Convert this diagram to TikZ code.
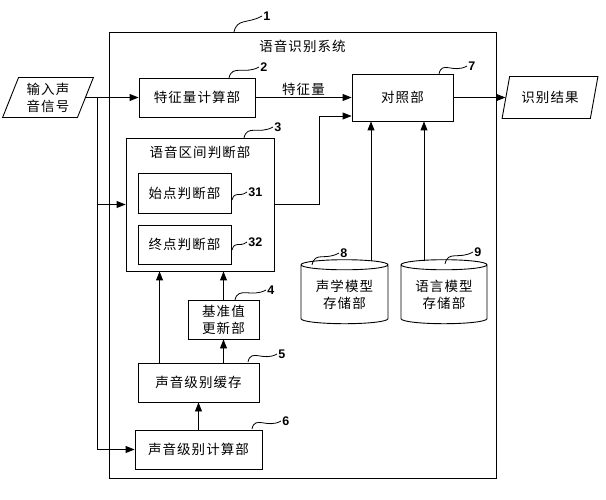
\documentclass[tikz,border=0pt]{standalone}
\usepackage{fontspec}
\setmainfont{Noto Sans CJK SC}[LetterSpace=8]
\newfontfamily\numfont{Liberation Sans}
\usetikzlibrary{arrows.meta, shapes.geometric}

\begin{document}
\begin{tikzpicture}[
  x=1pt, y=-1pt,
  txt/.style={font=\fontsize{13.5}{17}\selectfont, align=center, inner sep=1pt},
  block/.style={txt, draw, rectangle, line width=0.9pt},
  io/.style={txt, draw, trapezium, trapezium left angle=69, trapezium right angle=111, trapezium stretches=true, line width=0.9pt},
  store/.style={txt, draw, cylinder, shape border rotate=90, aspect=0.17, line width=0.9pt},
  arr/.style={-{Triangle[length=9pt, width=7pt]}, line width=0.9pt},
  lead/.style={line width=0.8pt},
  num/.style={font=\numfont\bfseries\fontsize{12.5}{14}\selectfont, inner sep=1pt}
]
\useasboundingbox (0,0) rectangle (606,500);

% system frame
\node[block, minimum width=387pt, minimum height=446pt] (sys) at (302.5,255) {};
\node[txt] (sysname) at ([yshift=-15pt]sys.north) {语音识别系统};

% blocks
\node[io, minimum width=91pt, minimum height=40pt] (in) at (48,97.5) {输入声\\音信号};
\node[block, minimum width=116pt, minimum height=39pt] (calc) at (197,97.5) {特征量计算部};
\node[block, minimum width=148pt, minimum height=133pt] (sect) at (200,204.5) {};
\node[txt] (sectname) at ([yshift=-15pt]sect.north) {语音区间判断部};
\node[block, minimum width=93pt, minimum height=40pt] (start) at (184.5,193) {始点判断部};
\node[block, minimum width=93pt, minimum height=39pt] (stop) at (184.5,244.5) {终点判断部};
\node[block, minimum width=71pt, minimum height=39pt] (upd) at (223.5,319.5) {基准值\\更新部};
\node[block, minimum width=121pt, minimum height=39pt] (buf) at (198.5,382.5) {声音级别缓存};
\node[block, minimum width=127pt, minimum height=39pt] (lvl) at (198.5,449.5) {声音级别计算部};
\node[block, minimum width=101pt, minimum height=47pt] (match) at (402.5,97.5) {对照部};
\node[io, minimum width=96pt, minimum height=42pt] (out) at (550,97.5) {识别结果};
\node[store, minimum width=87pt, minimum height=64pt] (am) at (344.5,295) {声学模型\\存储部};
\node[store, minimum width=86pt, minimum height=64pt] (lm) at (444,295) {语言模型\\存储部};

% connectors
\coordinate (split) at (97,97.5);
\draw[arr] (in.east) -- (calc.west);
\draw[arr] (split) |- (sect.west);
\draw[arr] (split) |- (lvl.west);
\draw[arr] (calc) -- node[txt, above] (feat) {特征量} (match);
\coordinate (turn) at (319,116);
\draw[arr] (sect.east) -| (turn) -- (match.west |- turn);
\draw[arr] (match.east) -- (out.west);
\coordinate (amtop) at ([xshift=26.5pt, yshift=-1.5pt]am.north);
\draw[arr] (amtop) -- (amtop |- match.south);
\coordinate (lmtop) at ([xshift=-20pt, yshift=-2pt]lm.north);
\draw[arr] (lmtop) -- (lmtop |- match.south);
\draw[arr] (lvl) -- (buf);
\coordinate (bufleft) at ([xshift=22pt]buf.north west);
\draw[arr] (bufleft) -- (bufleft |- sect.south);
\draw[arr] (buf.north -| upd) -- (upd);
\draw[arr] (upd) -- (upd |- sect.south);

% reference numerals
\draw[lead] (234,32) .. controls +(3,-14) and +(-14,8) .. (262,16) node[num, right] (n1) {1};
\draw[lead] (229,78) .. controls +(3,-14) and +(-14,8) .. (259,67) node[num, right] (n2) {2};
\draw[lead] (244,138) .. controls +(3,-14) and +(-14,8) .. (273,127) node[num, right] (n3) {3};
\draw[lead] (232,200) .. controls +(3,-10) and +(-8,6) .. (247,192) node[num, right] (n31) {31};
\draw[lead] (232,250) .. controls +(3,-10) and +(-8,6) .. (247,242) node[num, right] (n32) {32};
\draw[lead] (235,300) .. controls +(3,-14) and +(-14,8) .. (266,290) node[num, right] (n4) {4};
\draw[lead] (248,362) .. controls +(3,-14) and +(-14,8) .. (277,354) node[num, right] (n5) {5};
\draw[lead] (252,429) .. controls +(3,-14) and +(-14,8) .. (281,421) node[num, right] (n6) {6};
\draw[lead] (439,74) .. controls +(3,-14) and +(-14,8) .. (467,66) node[num, right] (n7) {7};
\draw[lead] (312,265) .. controls +(3,-14) and +(-14,8) .. (339,253) node[num, right] (n8) {8};
\draw[lead] (445,264) .. controls +(3,-14) and +(-14,8) .. (473,252) node[num, right] (n9) {9};
\end{tikzpicture}
\end{document}
